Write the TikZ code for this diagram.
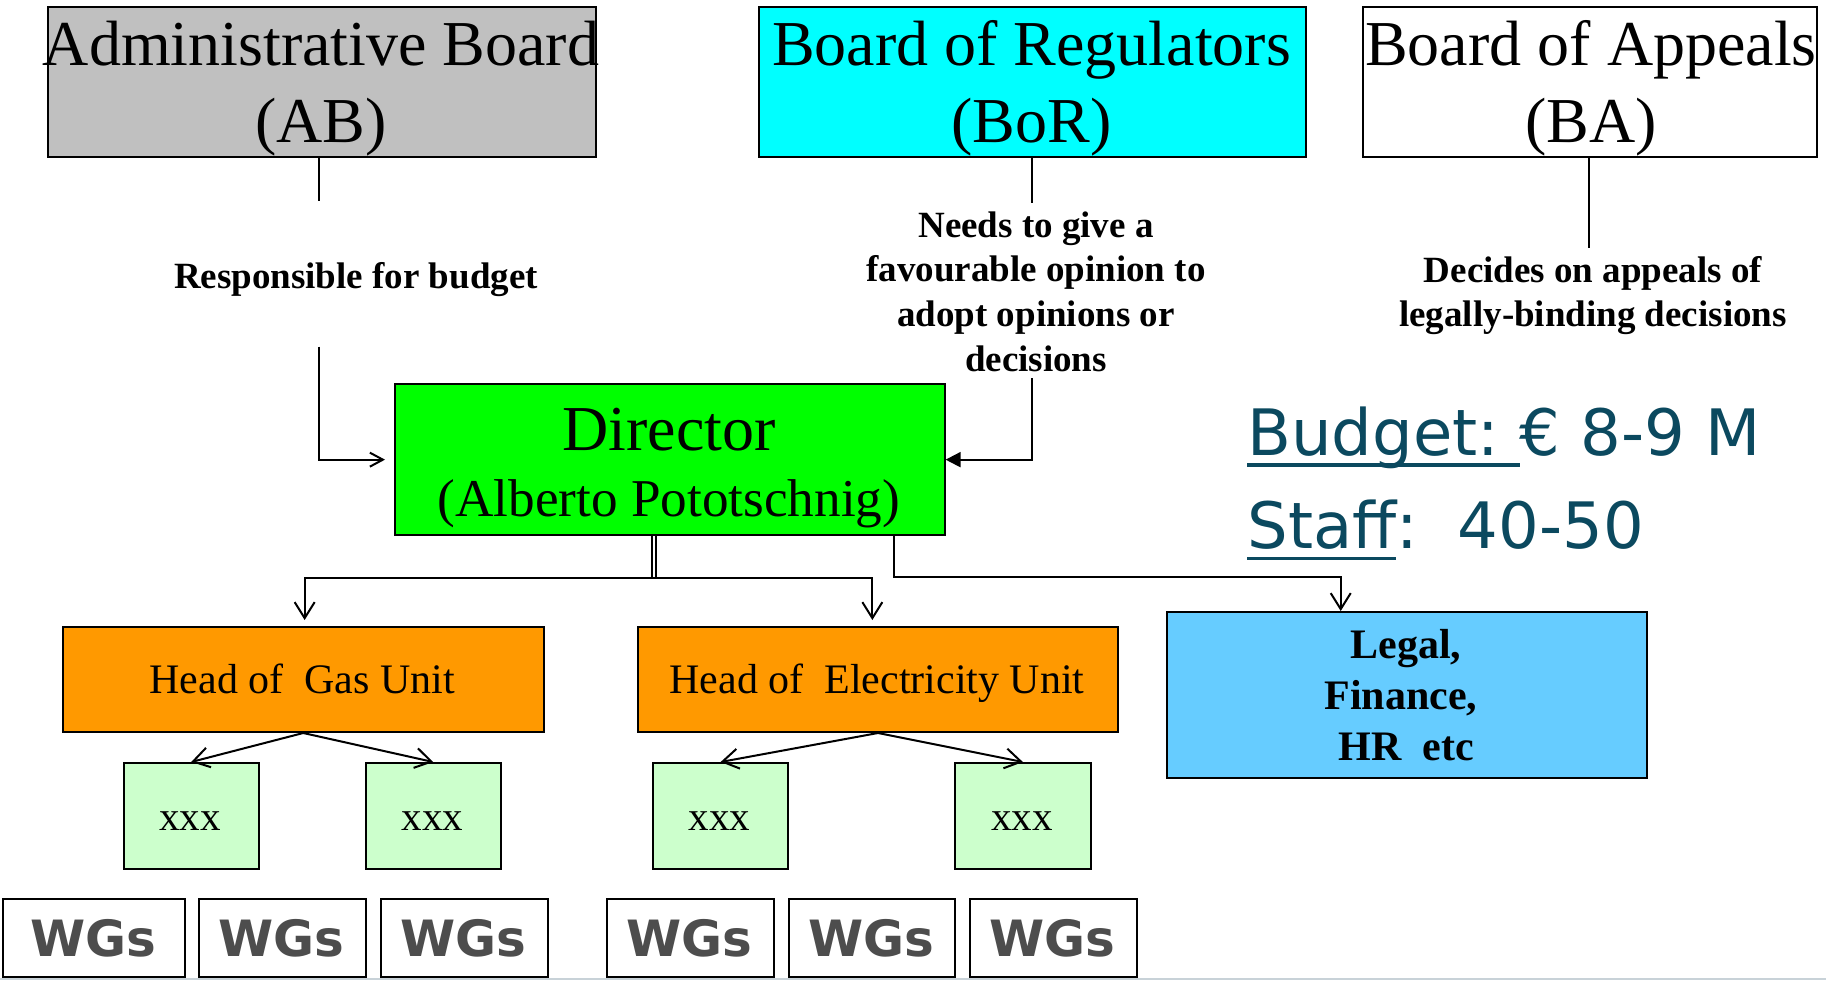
\documentclass[tikz,border=0pt]{standalone}
\usepackage{fontspec}
\setmainfont{Liberation Serif}
\newfontfamily\dejavu{DejaVu Sans}
\usetikzlibrary{arrows.meta}
\definecolor{abgray}{RGB}{192,192,192}
\definecolor{borcyan}{RGB}{0,255,255}
\definecolor{dirgreen}{RGB}{0,255,0}
\definecolor{unitorange}{RGB}{255,153,0}
\definecolor{legalblue}{RGB}{102,204,255}
\definecolor{xxxgreen}{RGB}{204,255,204}
\definecolor{wgsgray}{RGB}{77,77,77}
\definecolor{budgetteal}{RGB}{11,73,95}
\definecolor{footline}{RGB}{200,210,216}
\newcommand\boardfont{\fontsize{32}{38}\selectfont}
\newcommand\lblfont{\bfseries\fontsize{18.5}{22}\selectfont}
\newcommand\unitfont{\fontsize{21}{25}\selectfont}
\newcommand\myul[1]{\setbox0\hbox{#1}\rlap{\rule[-0.18em]{\wd0}{0.05em}}\box0}
\tikzset{
  box/.style={draw=black, line width=1pt, inner sep=0pt, anchor=north west},
  txt/.style={inner sep=0pt, anchor=base},
  conn/.style={draw=black, line width=1pt},
  openarr/.style={-{Straight Barb[length=8pt,width=10pt,line width=1pt]}},
  smallarr/.style={-{Straight Barb[length=6.5pt,width=7pt,line width=1pt]}},
  fillarr/.style={-{Triangle[length=7.5pt,width=7.5pt]}},
  wgsbox/.style={box, fill=white, minimum height=38.85pt},
  wgstxt/.style={txt, font=\dejavu\bfseries\fontsize{25}{30}\selectfont, text=wgsgray},
  xxxbox/.style={box, fill=xxxgreen, minimum width=67.6pt, minimum height=53pt},
  xxxtxt/.style={txt, font=\fontsize{20.5}{24}\selectfont},
}
\begin{document}
\begin{tikzpicture}[x=0.5pt,y=-0.5pt]
\useasboundingbox (0,0) rectangle (1826,980);
\fill[white] (0,0) rectangle (1826,980);

% top boards
\node[box, fill=abgray, minimum width=274pt, minimum height=75pt] (ab) at (47,6) {};
\node[txt, font=\boardfont] (abt1) at (321,65) {Administrative Board};
\node[txt, font=\boardfont] (abt2) at (321,142) {(AB)};

\node[box, fill=borcyan, minimum width=273.5pt, minimum height=75pt] (bor) at (758,6) {};
\node[txt, font=\boardfont] (bort1) at (1031.5,65) {Board of Regulators};
\node[txt, font=\boardfont] (bort2) at (1031.5,142) {(BoR)};

\node[box, fill=white, minimum width=226.8pt, minimum height=75pt] (ba) at (1362,6) {};
\node[txt, font=\boardfont] (bat1) at (1591,65) {Board of Appeals};
\node[txt, font=\boardfont] (bat2) at (1591,142) {(BA)};

% labels
\node[txt, font=\lblfont] (resp) at (356,288) {Responsible for budget};
\node[txt, font=\lblfont] (need1) at (1036,237.3) {Needs to give a};
\node[txt, font=\lblfont] (need2) at (1036,281.7) {favourable opinion to};
\node[txt, font=\lblfont] (need3) at (1036,326.3) {adopt opinions or};
\node[txt, font=\lblfont] (need4) at (1036,371) {decisions};
\node[txt, font=\lblfont] (dec1) at (1593,282) {Decides on appeals of};
\node[txt, font=\lblfont] (dec2) at (1593,326.6) {legally-binding decisions};

% director
\node[box, fill=dirgreen, minimum width=274.8pt, minimum height=75.35pt] (dir) at (394,383.3) {};
\node[txt, font=\boardfont] (dirt1) at (669,450.7) {Director};
\node[txt, font=\fontsize{26.6}{32}\selectfont] (dirt2) at (669,516.7) {(Alberto Pototschnig)};

% budget / staff
\node[inner sep=0pt, anchor=base west, font=\dejavu\fontsize{32}{38}\selectfont, text=budgetteal] (budget) at (1247,455) {\myul{Budget:\ }€ 8-9 M};
\node[inner sep=0pt, anchor=base west, font=\dejavu\fontsize{32}{38}\selectfont, text=budgetteal] (staff) at (1247,548.3) {\myul{Staff}:\hspace{0.2em} 40-50};

% units
\node[box, fill=unitorange, minimum width=240.25pt, minimum height=52.5pt] (gas) at (62,626) {};
\node[txt, font=\unitfont] (gast) at (302.3,693.3) {Head of~ Gas Unit};
\node[box, fill=unitorange, minimum width=240.35pt, minimum height=52.5pt] (elec) at (636.7,626) {};
\node[txt, font=\unitfont] (elect) at (877,693.3) {Head of~ Electricity Unit};
\node[box, fill=legalblue, minimum width=240pt, minimum height=83pt] (leg) at (1166,611) {};
\node[txt, font=\bfseries\fontsize{21}{25}\selectfont] (legt1) at (1406,658) {Legal,};
\node[txt, font=\bfseries\fontsize{21}{25}\selectfont] (legt2) at (1401,709) {Finance,};
\node[txt, font=\bfseries\fontsize{21}{25}\selectfont] (legt3) at (1406,760) {HR~ etc};

% xxx boxes
\node[xxxbox] (x1) at (122.6,762) {};
\node[xxxtxt] (x1t) at (190.2,830) {xxx};
\node[xxxbox] (x2) at (364.6,762) {};
\node[xxxtxt] (x2t) at (432.3,830) {xxx};
\node[xxxbox] (x3) at (652,762) {};
\node[xxxtxt] (x3t) at (719.5,830) {xxx};
\node[xxxbox] (x4) at (954.3,762) {};
\node[xxxtxt] (x4t) at (1021.9,830) {xxx};

% WGs boxes
\node[wgsbox, minimum width=91pt] (w1) at (2,898) {};
\node[wgstxt] (w1t) at (93,956.7) {WGs};
\node[wgsbox, minimum width=83.5pt] (w2) at (198,898) {};
\node[wgstxt] (w2t) at (281.5,956.7) {WGs};
\node[wgsbox, minimum width=83.25pt] (w3) at (380,898) {};
\node[wgstxt] (w3t) at (463.2,956.7) {WGs};
\node[wgsbox, minimum width=83.5pt] (w4) at (606,898) {};
\node[wgstxt] (w4t) at (689.5,956.7) {WGs};
\node[wgsbox, minimum width=83pt] (w5) at (788,898) {};
\node[wgstxt] (w5t) at (871,956.7) {WGs};
\node[wgsbox, minimum width=83.5pt] (w6) at (969,898) {};
\node[wgstxt] (w6t) at (1052.5,956.7) {WGs};

% connectors
\coordinate (abA) at (319,201);
\coordinate (abB) at (319,346.7);
\draw[conn] (ab.south -| abA) -- (abA);
\draw[conn, smallarr, shorten >=4.5pt] (abB) |- (dir.west);

\coordinate (borA) at (1031.7,202.7);
\coordinate (borB) at (1031.7,378.3);
\draw[conn] (bor.south -| borA) -- (borA);
\draw[conn, fillarr] (borB) |- (dir.east);

\coordinate (baA) at (1589,248.3);
\draw[conn] (ba.south -| baA) -- (baA);

\coordinate (dirB) at (654,578.3);
\draw[draw=black, line width=0.75pt, double, double distance=1.1pt] (dir.south -| dirB) -- (dirB);
\draw[conn, openarr, shorten >=3pt] (dirB) -| ([xshift=0.7pt]gas.north);
\draw[conn, openarr, shorten >=3pt] (dirB) -| ([xshift=-2.85pt]elec.north);

\coordinate (legTurn) at (893.7,576.7);
\draw[conn, openarr] (dir.south -| legTurn) -- (legTurn) -| ([xshift=-33.15pt]leg.north);

\draw[conn, openarr] (gas.south) -- (x1.north);
\draw[conn, openarr] (gas.south) -- (x2.north);
\draw[conn, openarr] (elec.south) -- (x3.north);
\draw[conn, openarr] (elec.south) -- (x4.north);

% footer line
\draw[footline, line width=1pt] (0,978.5) -- (1826,978.5);
\end{tikzpicture}
\end{document}
